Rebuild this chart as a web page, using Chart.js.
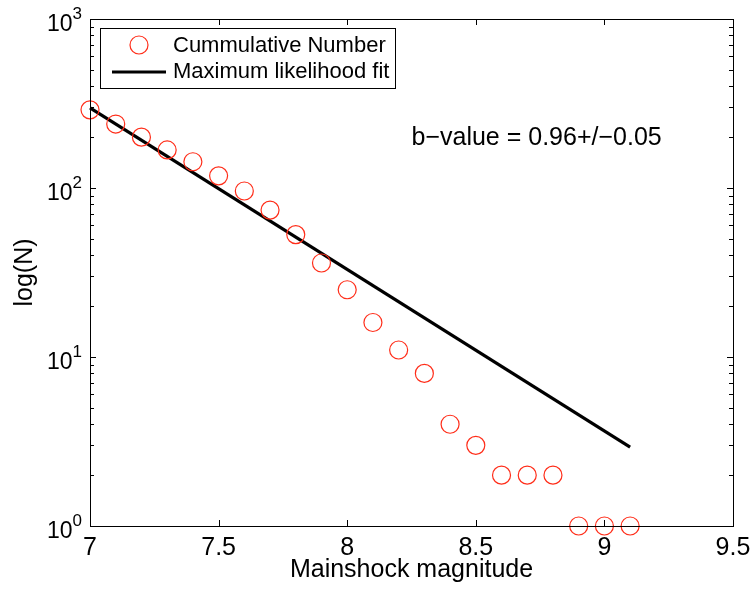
<!DOCTYPE html>
<html><head><meta charset="utf-8">
<script src="https://cdn.jsdelivr.net/npm/chart.js@4/dist/chart.umd.min.js"></script>
<style>html,body{margin:0;padding:0;background:#fff}#c{display:block}</style>
</head><body>
<canvas id="c" width="753" height="594"></canvas>
<script>
const magnitudes = [7.0,7.1,7.2,7.3,7.4,7.5,7.6,7.7,7.8,7.9,8.0,8.1,8.2,8.3,8.4,8.5,8.6,8.7,8.8,8.9,9.0,9.1];
const cumulativeN = [290,239,200,168,143,118,96,74,53,36,25,16,11,8,4,3,2,2,2,1,1,1];
const fitX = [7.0, 9.1];
const fitN = [298, 2.93];
const xTicks = [7, 7.5, 8, 8.5, 9, 9.5];
const yMajorTicks = [1, 10, 100, 1000];
const labels = ['Cummulative Number', 'Maximum likelihood fit'];
const annotationText = 'b\u2212value = 0.96+/\u22120.05';
const FONT = '"Liberation Sans", Arial, Helvetica, sans-serif';
const RED = 'rgb(255,45,25)';

const framePlugin = {
  id: 'frame',
  afterDatasetsDraw(chart) {
    const {ctx, chartArea: a, scales: {x, y}} = chart;
    ctx.save();
    ctx.strokeStyle = '#000';
    ctx.lineWidth = 1;
    ctx.strokeRect(Math.round(a.left)+0.5, Math.round(a.top)+0.5, Math.round(a.right-a.left), Math.round(a.bottom-a.top));
    ctx.beginPath();
    xTicks.forEach(v => {
      const px = Math.round(x.getPixelForValue(v)) + 0.5;
      ctx.moveTo(px, a.bottom); ctx.lineTo(px, a.bottom - 6);
      ctx.moveTo(px, a.top); ctx.lineTo(px, a.top + 6);
    });
    for (let d = 0; d < 3; d++) {
      for (let m = 1; m <= 9; m++) {
        const v = m * Math.pow(10, d);
        const py = Math.round(y.getPixelForValue(v)) + 0.5;
        const len = (m === 1) ? 6 : 4;
        ctx.moveTo(a.left, py); ctx.lineTo(a.left + len, py);
        ctx.moveTo(a.right, py); ctx.lineTo(a.right - len, py);
      }
    }
    ctx.stroke();
    ctx.fillStyle = '#000';
    yMajorTicks.forEach(v => {
      const py = y.getPixelForValue(v);
      const e = String(Math.round(Math.log10(v)));
      ctx.font = '17px ' + FONT;
      const ew = ctx.measureText(e).width;
      ctx.textBaseline = 'alphabetic';
      ctx.textAlign = 'left';
      ctx.fillText(e, a.left - 8 - ew, py);
      ctx.font = '23px ' + FONT;
      ctx.textAlign = 'right';
      ctx.fillText('10', a.left - 8 - ew, py + 12);
    });
    ctx.font = '25px ' + FONT;
    ctx.textAlign = 'left';
    ctx.textBaseline = 'middle';
    ctx.fillText(annotationText, x.getPixelForValue(8.25), y.getPixelForValue(198));
    const lx = 100, ly = 28, lw = 295, lh = 60;
    ctx.fillStyle = '#fff';
    ctx.fillRect(lx, ly, lw, lh);
    ctx.strokeStyle = '#000';
    ctx.lineWidth = 1;
    ctx.strokeRect(lx + 0.5, ly + 0.5, lw, lh);
    ctx.strokeStyle = RED;
    ctx.lineWidth = 1.2;
    ctx.beginPath(); ctx.arc(139, 45, 9, 0, Math.PI * 2); ctx.stroke();
    ctx.strokeStyle = '#000';
    ctx.lineWidth = 3;
    ctx.beginPath(); ctx.moveTo(112, 72); ctx.lineTo(166, 72); ctx.stroke();
    ctx.fillStyle = '#000';
    ctx.font = '22px ' + FONT;
    ctx.textAlign = 'left';
    ctx.textBaseline = 'middle';
    ctx.fillText(labels[0], 173, 46);
    ctx.fillText(labels[1], 173, 72);
    ctx.restore();
  }
};

new Chart(document.getElementById('c'), {
  type: 'scatter',
  data: {
    datasets: [
      {
        label: labels[0],
        data: magnitudes.map((m, i) => ({x: m, y: cumulativeN[i]})),
        pointStyle: 'circle',
        pointRadius: 9,
        pointBorderWidth: 1.2,
        pointBorderColor: RED,
        pointBackgroundColor: 'rgba(0,0,0,0)',
        showLine: false,
        clip: false
      },
      {
        type: 'line',
        label: labels[1],
        data: fitX.map((m, i) => ({x: m, y: fitN[i]})),
        borderColor: '#000',
        borderWidth: 3.2,
        pointRadius: 0,
        fill: false,
        clip: false
      }
    ]
  },
  options: {
    responsive: false,
    animation: false,
    layout: {padding: {top: 19, right: 20, left: 0, bottom: 0}},
    plugins: {legend: {display: false}, tooltip: {enabled: false}},
    scales: {
      x: {
        type: 'linear', min: 7, max: 9.5,
        afterBuildTicks(s) { s.ticks = xTicks.map(v => ({value: v})); },
        afterFit(s) { s.height = 68; s.paddingRight = 0; s.paddingLeft = 0; },
        grid: {display: false, drawTicks: false},
        border: {display: false},
        ticks: {color: '#000', font: {family: FONT, size: 25}, padding: 7, maxRotation: 0,
                callback: v => String(v)},
        title: {display: true, text: 'Mainshock magnitude', color: '#000', font: {family: FONT, size: 25}, padding: {top: 0, bottom: 9}}
      },
      y: {
        type: 'logarithmic', min: 1, max: 1000,
        afterFit(s) { s.width = 90; s.paddingTop = 0; s.paddingBottom = 0; },
        grid: {display: false, drawTicks: false},
        border: {display: false},
        ticks: {display: false},
        title: {display: true, text: 'log(N)', color: '#000', font: {family: FONT, size: 25}, padding: {top: 10, bottom: 0}}
      }
    }
  },
  plugins: [framePlugin]
});
</script>
</body></html>
